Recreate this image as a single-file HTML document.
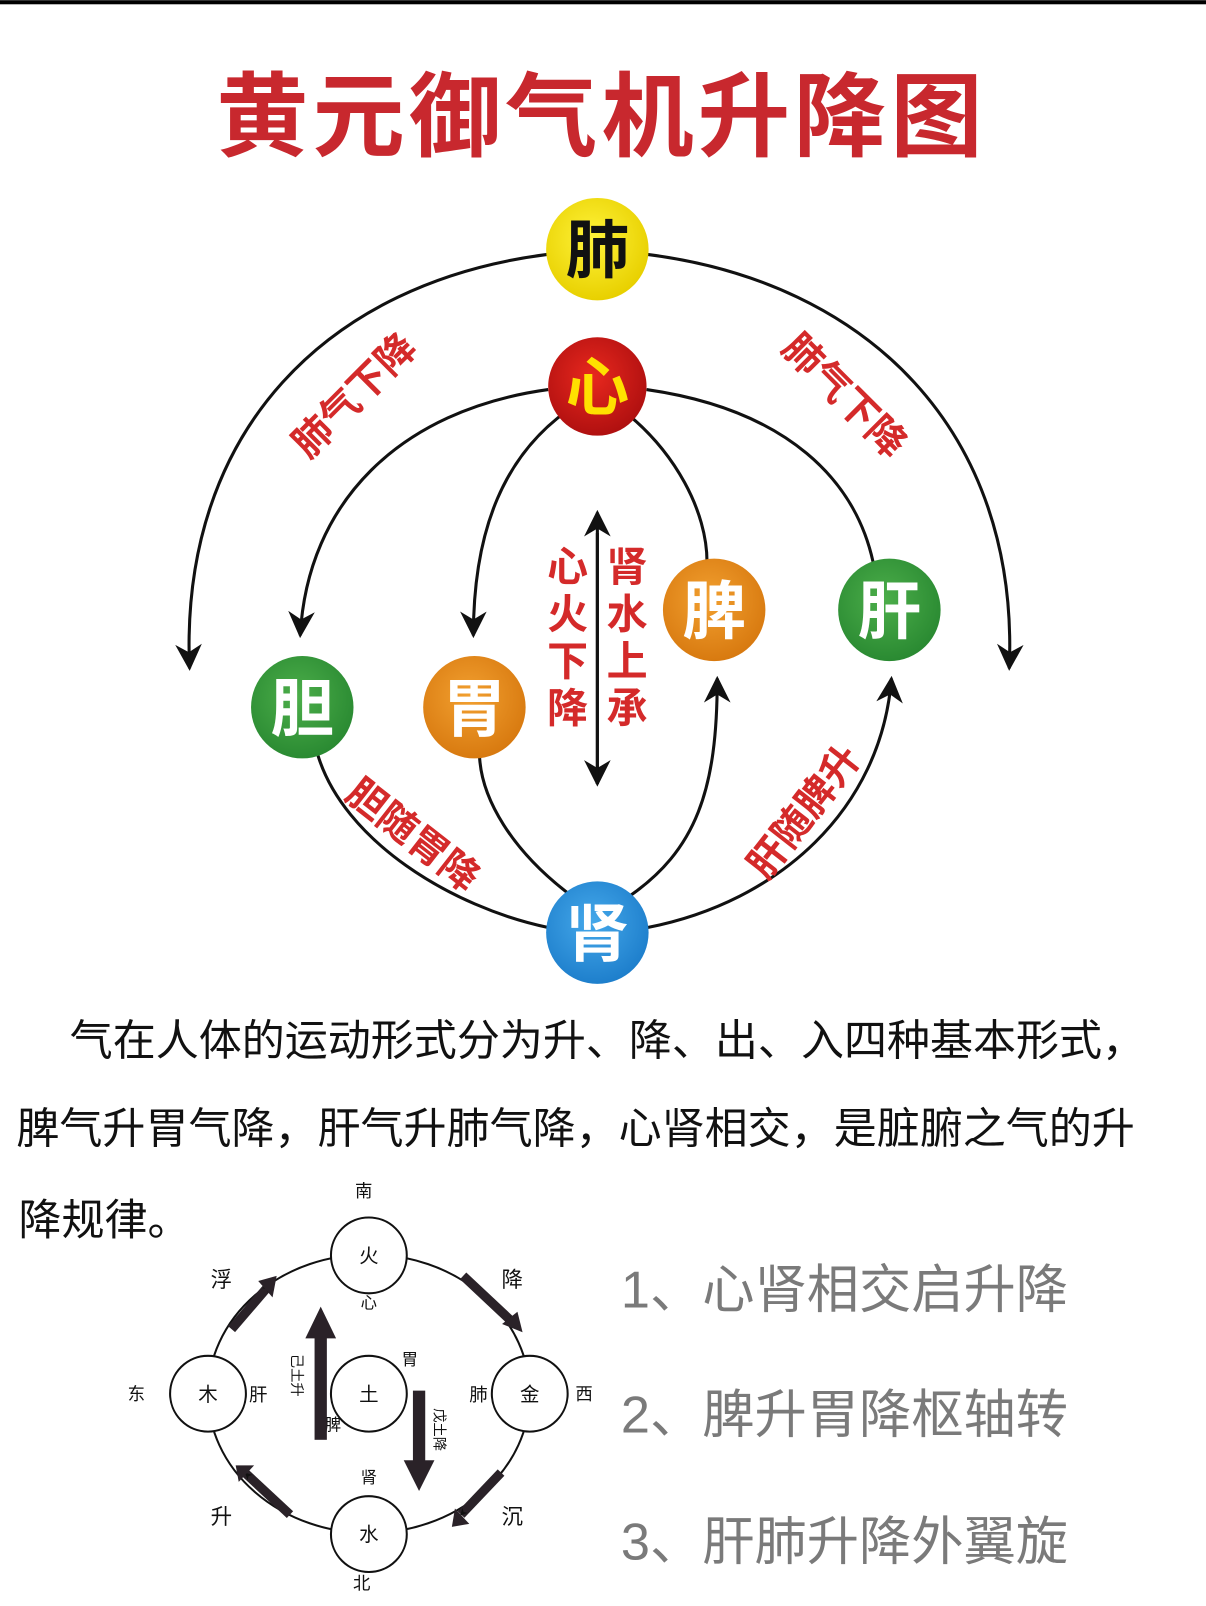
<!DOCTYPE html>
<html><head><meta charset="utf-8"><style>
html,body{margin:0;padding:0;background:#fff;}
svg{display:block;}
text{font-family:"Liberation Sans","Noto Sans CJK SC",sans-serif;}
</style></head><body>
<svg width="1206" height="1606" viewBox="0 0 1177 1567" xmlns="http://www.w3.org/2000/svg">
<defs>
<marker id="ah" viewBox="0 0 10 10" refX="8" refY="5" markerWidth="7" markerHeight="9" orient="auto" markerUnits="userSpaceOnUse"><path d="M0,0 L10,5 L0,10 L3,5 z" fill="#111"/></marker>
<marker id="a2" viewBox="0 0 10 10" refX="9" refY="5" markerWidth="26" markerHeight="26" orient="auto" markerUnits="userSpaceOnUse"><path d="M0,0 L10,5 L0,10 L3,5 z" fill="#111"/></marker>
<radialGradient id="gy" cx="45%" cy="40%" r="60%"><stop offset="0" stop-color="#fff33a"/><stop offset="1" stop-color="#e8d000"/></radialGradient>
<radialGradient id="gr" cx="45%" cy="40%" r="60%"><stop offset="0" stop-color="#e8281e"/><stop offset="1" stop-color="#b01010"/></radialGradient>
<radialGradient id="gg" cx="45%" cy="40%" r="60%"><stop offset="0" stop-color="#4cae4a"/><stop offset="1" stop-color="#2a8a32"/></radialGradient>
<radialGradient id="go" cx="45%" cy="40%" r="60%"><stop offset="0" stop-color="#f2a030"/><stop offset="1" stop-color="#d87a10"/></radialGradient>
<radialGradient id="gb" cx="45%" cy="40%" r="60%"><stop offset="0" stop-color="#45a8ea"/><stop offset="1" stop-color="#1e7fcc"/></radialGradient>
</defs>
<rect x="0" y="0" width="1177" height="4" fill="#000"/>
<text x="587" y="145" text-anchor="middle" font-size="90" font-weight="bold" fill="#c8282e" letter-spacing="4">黄元御气机升降图</text>

<g fill="none" stroke="#111" stroke-width="3">
<path d="M535,248 C320,275 175,420 185,652" marker-end="url(#a2)"/>
<path d="M631,248 C846,275 995,420 985,652" marker-end="url(#a2)"/>
<path d="M535,380 C390,400 300,490 293,620" marker-end="url(#a2)"/>
<path d="M565,393 C490,440 462,520 462,620" marker-end="url(#a2)"/>
<path d="M605,398 C660,440 690,500 690,548"/>
<path d="M631,380 C770,400 835,470 852,548"/>
<path d="M535,905 C440,885 335,820 310,736"/>
<path d="M555,872 C500,830 470,780 468,738"/>
<path d="M612,876 C680,830 700,770 700,662" marker-end="url(#a2)"/>
<path d="M632,905 C760,880 860,790 870,662" marker-end="url(#a2)"/>
<path d="M583,520 L583,765" marker-end="url(#a2)"/>
<path d="M583,765 L583,500" marker-end="url(#a2)"/>
</g>

<g font-weight="bold" text-anchor="middle">
<circle cx="583" cy="243" r="50" fill="url(#gy)"/><text x="583" y="266" font-size="62" fill="#111">肺</text>
<circle cx="583" cy="377" r="48" fill="url(#gr)"/><text x="583" y="400" font-size="62" fill="#ffe000">心</text>
<circle cx="295" cy="690" r="50" fill="url(#gg)"/><text x="295" y="713" font-size="62" fill="#fff">胆</text>
<circle cx="463" cy="690" r="50" fill="url(#go)"/><text x="463" y="713" font-size="62" fill="#fff">胃</text>
<circle cx="697" cy="595" r="50" fill="url(#go)"/><text x="697" y="618" font-size="62" fill="#fff">脾</text>
<circle cx="868" cy="595" r="50" fill="url(#gg)"/><text x="868" y="618" font-size="62" fill="#fff">肝</text>
<circle cx="583" cy="910" r="50" fill="url(#gb)"/><text x="583" y="933" font-size="62" fill="#fff">肾</text>
</g>

<g font-weight="bold" fill="#d42a2a" font-size="38" text-anchor="middle">
<text transform="translate(355,395) rotate(-45)">肺气下降</text>
<text transform="translate(815,395) rotate(45)">肺气下降</text>
<text transform="translate(395,825) rotate(38)">胆随胃降</text>
<text transform="translate(795,800) rotate(-52)">肝随脾升</text>
<text x="554" y="567" font-size="40">心</text>
<text x="554" y="613" font-size="40">火</text>
<text x="554" y="659" font-size="40">下</text>
<text x="554" y="705" font-size="40">降</text>
<text x="612" y="567" font-size="40">肾</text>
<text x="612" y="613" font-size="40">水</text>
<text x="612" y="659" font-size="40">上</text>
<text x="612" y="705" font-size="40">承</text>
</g>

<g font-size="42" fill="#111">
<text x="68" y="1030">气在人体的运动形式分为升、降、出、入四种基本形式，</text>
<text x="16" y="1116">脾气升胃气降，肝气升肺气降，心肾相交，是脏腑之气的升</text>
<text x="18" y="1205">降规律。</text>
</g>

<ellipse cx="360" cy="1360" rx="157" ry="136" fill="none" stroke="#111" stroke-width="2"/>
<g fill="#fff" stroke="#111" stroke-width="2">
<circle cx="360" cy="1225" r="37"/><circle cx="203" cy="1360" r="37"/><circle cx="517" cy="1360" r="37"/><circle cx="360" cy="1497" r="37"/><circle cx="360" cy="1360" r="37"/>
</g>
<g font-size="19" fill="#111" text-anchor="middle">
<text x="360" y="1232">火</text><text x="203" y="1367">木</text><text x="517" y="1367">金</text><text x="360" y="1504">水</text><text x="360" y="1367">土</text>
<text x="355" y="1168" font-size="17">南</text><text x="353" y="1551" font-size="17">北</text>
<text x="133" y="1366" font-size="17">东</text><text x="570" y="1366" font-size="17">西</text>
<text x="360" y="1277" font-size="16">心</text><text x="360" y="1447" font-size="16">肾</text>
<text x="252" y="1367" font-size="18">肝</text><text x="467" y="1367" font-size="18">肺</text>
<text x="400" y="1332" font-size="16">胃</text><text x="325" y="1396" font-size="16">脾</text>
<text x="216" y="1256" font-size="21">浮</text><text x="500" y="1256" font-size="21">降</text>
<text x="216" y="1487" font-size="21">升</text><text x="500" y="1487" font-size="21">沉</text>
<text transform="translate(285,1342) rotate(90)" font-size="14">己土升</text>
<text transform="translate(424,1395) rotate(90)" font-size="14">戊土降</text>
</g>
<g fill="#2a2228">
<rect x="307" y="1305" width="12" height="100"/><path d="M298,1306 L313,1275 L328,1306 z"/>
<rect x="403" y="1357" width="12" height="70"/><path d="M394,1425 L409,1455 L424,1425 z"/>
</g>
<g stroke="#2a2228" stroke-width="9" fill="none" marker-end="url(#ah)">
<path d="M226,1297 L262,1255"/>
<path d="M452,1245 L500,1290"/>
<path d="M489,1437 L450,1478"/>
<path d="M283,1478 L240,1438"/>
</g>
<g fill="#2a2228">
<path d="M252,1250 L270,1245 L266,1266 z"/>
<path d="M490,1292 L510,1300 L505,1280 z"/>
<path d="M458,1487 L441,1490 L444,1472 z"/>
<path d="M248,1430 L230,1430 L233,1446 z"/>
</g>

<g font-size="51" fill="#7a7a7a">
<text x="606" y="1276">1、心肾相交启升降</text>
<text x="606" y="1398">2、脾升胃降枢轴转</text>
<text x="606" y="1522">3、肝肺升降外翼旋</text>
</g>
</svg>
</body></html>
